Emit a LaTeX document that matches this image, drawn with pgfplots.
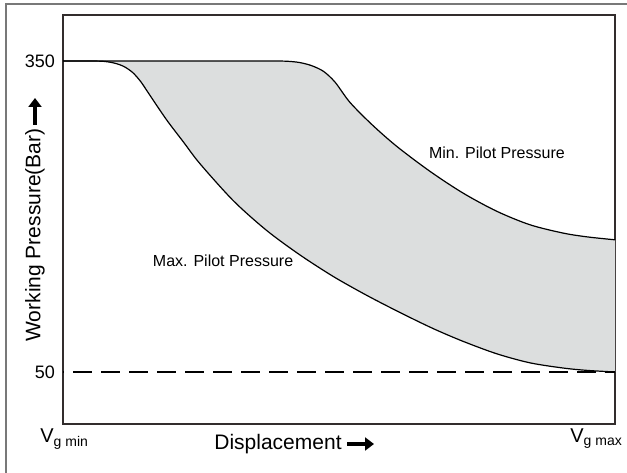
\documentclass[border=0pt]{standalone}
\usepackage{pgfplots}
\pgfplotsset{compat=1.18}
\usepgfplotslibrary{fillbetween}
\usetikzlibrary{arrows.meta}
\usepackage{fontspec}
\setmainfont{Liberation Sans}
\definecolor{bandgray}{RGB}{220,222,222}
\definecolor{framegray}{RGB}{120,120,120}
\definecolor{axgray}{RGB}{50,45,45}
\begin{document}
\begin{tikzpicture}
\begin{axis}[
  at={(31.5pt,24pt)}, anchor=south west,
  scale only axis, width=276pt, height=204.5pt,
  xmin=0, xmax=100, ymin=-0.2, ymax=394.4,
  axis line style={axgray, line width=0.8pt},
  xtick=\empty,
  ytick={50,350}, yticklabels={50,350},
  major tick length=0pt,
  yticklabel style={font=\fontsize{9}{10}\selectfont, xshift=-0.5pt},
  /pgf/number format/assume math mode=true,
  clip=false,
  set layers,
]
\addplot[name path=upper, black, line width=0.6pt, smooth, tension=0.5] coordinates {
(0,350) (35,350) (38,350) (40.5,349.8) (42.8,348.6) (45,345.6) (47.2,340) (49.3,329.5) (52,310)
(56,288.5) (60.5,267.5) (66.5,243.5) (72.5,222.5) (78.6,205) (84.6,192) (90.6,184) (95,180.3) (100,177.5)};
\addplot[name path=lower, black, line width=0.6pt, smooth, tension=0.5] coordinates {
(0,350) (3.5,350) (5.5,350) (7.5,349.6) (9.3,348) (11,344.8) (12.6,339) (14.1,330) (15.8,316.5)
(18.8,293) (21.8,272) (24.8,251) (30.9,215) (36.9,186.5) (42.9,163) (49,142) (55,124) (61,107.5)
(67,92) (72.5,79.5) (78.6,67.5) (84.6,58.8) (90.6,53.8) (95,51.5) (100,50)};
\addplot[bandgray, on layer=axis background] fill between[of=upper and lower];
\addplot[black, line width=0.6pt, dash pattern=on 9.5pt off 4.5pt, dash phase=-5pt] coordinates {(0,50) (100,50)};
\node[font=\fontsize{8}{9}\selectfont] at (axis cs:29,157) {Max. Pilot Pressure};
\node[font=\fontsize{8}{9}\selectfont] at (axis cs:78.6,261) {Min. Pilot Pressure};
\end{axis}
\node[anchor=west, inner sep=0pt, font=\fontsize{10}{12}\selectfont] at (20pt,16.5pt) {V\textsubscript{\fontsize{7}{8}\selectfont g min}};
\node[anchor=west, inner sep=0pt, font=\fontsize{10}{12}\selectfont] at (285pt,16.5pt) {V\textsubscript{\fontsize{7}{8}\selectfont g max}};
\node[inner sep=0pt, font=\fontsize{10.5}{12}\selectfont] at (139pt,14pt) {Displacement};
\draw[black, line width=1.8pt, -{Triangle[length=4.5pt,width=6.5pt]}] (173.5pt,14pt) -- (187pt,14pt);
\node[inner sep=0pt, rotate=90, font=\fontsize{10.5}{12}\selectfont] at (17.5pt,118.5pt) {Working Pressure(Bar)};
\draw[black, line width=1.8pt, -{Triangle[length=4.5pt,width=6.5pt]}] (17.5pt,173.5pt) -- (17.5pt,187pt);
\draw[framegray, line width=0.6pt] (3pt,-10pt) -- (3pt,234pt) -- (330pt,234pt);
\pgfresetboundingbox
\useasboundingbox (0,0) rectangle (313.5pt,236pt);
\end{tikzpicture}
\end{document}
